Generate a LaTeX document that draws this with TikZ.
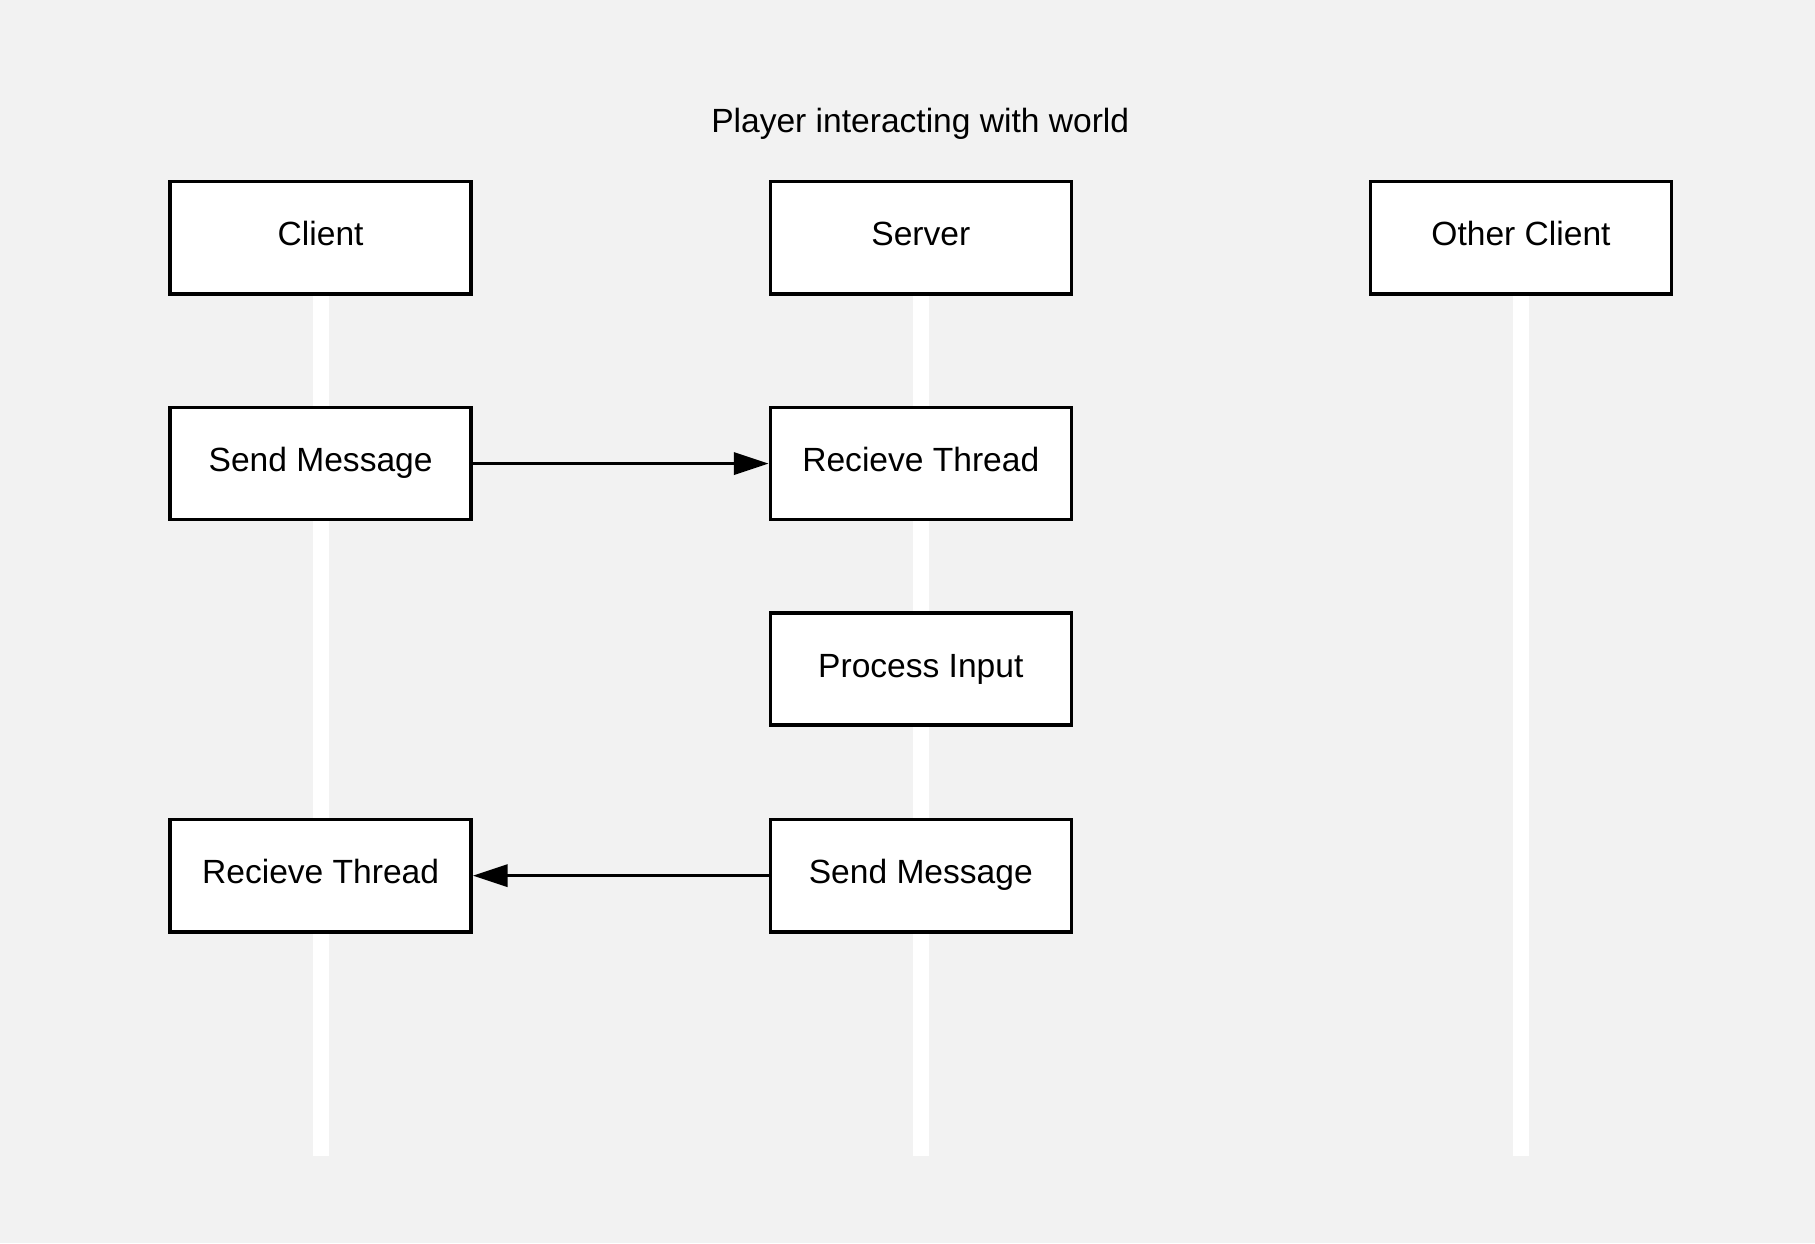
\documentclass[tikz,border=0pt]{standalone}
\usepackage{fontspec}
\setmainfont{Liberation Sans}
\usetikzlibrary{arrows.meta,backgrounds}
\definecolor{bg}{HTML}{F2F2F2}
\tikzset{
  label text/.style={font=\fontsize{14.5}{17}\selectfont, text height=10.5pt, text depth=3.6pt},
  box/.style={label text, draw=black, fill=white, line width=1.5pt, minimum width=130pt, minimum height=48.5pt, inner sep=0pt},
  lifeline/.style={draw=white, line width=7pt},
  msg/.style={draw=black, line width=1.5pt, -{Triangle[length=15pt,width=9.5pt]}},
  titletext/.style={label text}
}
\begin{document}
\begin{tikzpicture}[x=0.5pt,y=-0.5pt]
\useasboundingbox (0,0) rectangle (1568,1074);
\node[titletext] (title) at (795,107.5) {Player interacting with world};
\node[box] (client) at (277,205.5) {Client};
\node[box] (server) at (795.5,205.5) {Server};
\node[box] (other) at (1314,205.5) {Other Client};
\node[box] (csend) at (277,400.5) {Send Message};
\node[box] (srecv) at (795.5,400.5) {Recieve Thread};
\node[box] (proc) at (795.5,578) {Process Input};
\node[box] (crecv) at (277,756.5) {Recieve Thread};
\node[box] (ssend) at (795.5,756.5) {Send Message};
\coordinate (end) at (0,999);
\begin{scope}[on background layer]
  \fill[bg] (0,0) rectangle (1568,1074);
  \draw[lifeline] (client.south) -- (client.south |- end);
  \draw[lifeline] (server.south) -- (server.south |- end);
  \draw[lifeline] (other.south) -- (other.south |- end);
\end{scope}
\draw[msg] (csend.east) -- (srecv.west);
\draw[msg] (ssend.west) -- (crecv.east);
\end{tikzpicture}
\end{document}
